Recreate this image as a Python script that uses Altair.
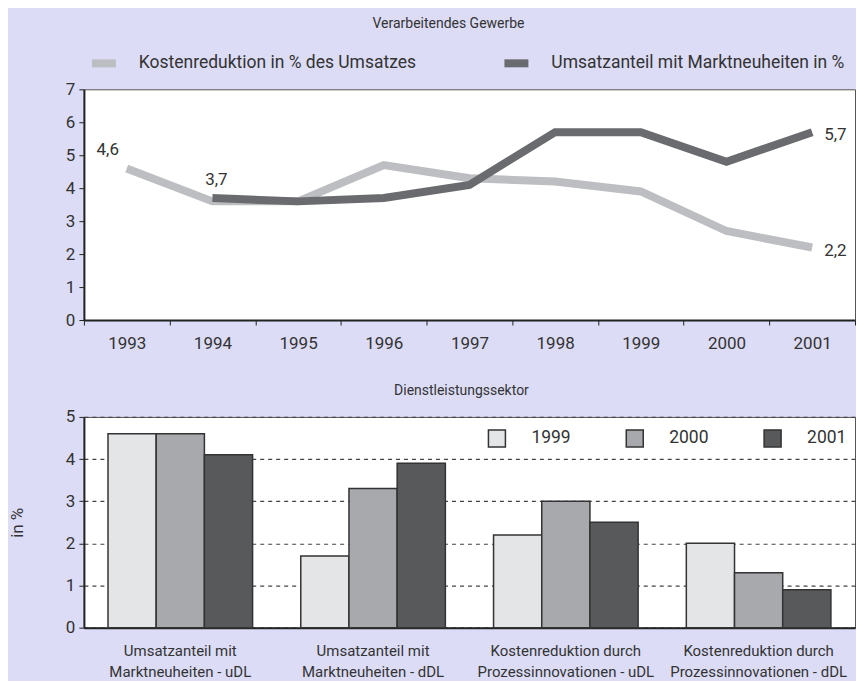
import altair as alt
import pandas as pd

# ---------------- data: top panel (Verarbeitendes Gewerbe) ----------------
years = ["1993", "1994", "1995", "1996", "1997", "1998", "1999", "2000", "2001"]
kosten_values = [4.6, 3.6, 3.6, 4.7, 4.3, 4.2, 3.9, 2.7, 2.2]
umsatz_years = ["1994", "1995", "1996", "1997", "1998", "1999", "2000", "2001"]
umsatz_values = [3.7, 3.6, 3.7, 4.1, 5.7, 5.7, 4.8, 5.7]
series_names = ["Kostenreduktion in % des Umsatzes", "Umsatzanteil mit Marktneuheiten in %"]
series_colors = ["#bdbec1", "#6a6b6e"]

label_years = ["1993", "1994", "2001", "2001"]
label_values = [4.6, 3.7, 5.7, 2.2]
label_texts = ["4,6", "3,7", "5,7", "2,2"]

# ---------------- data: bottom panel (Dienstleistungssektor) ----------------
categories = [
    "Umsatzanteil mit\nMarktneuheiten - uDL",
    "Umsatzanteil mit\nMarktneuheiten - dDL",
    "Kostenreduktion durch\nProzessinnovationen - uDL",
    "Kostenreduktion durch\nProzessinnovationen - dDL",
]
bar_years = ["1999", "2000", "2001"]
values_1999 = [4.6, 1.7, 2.2, 2.0]
values_2000 = [4.6, 3.3, 3.0, 1.3]
values_2001 = [4.1, 3.9, 2.5, 0.9]
bar_colors = ["#e4e5e7", "#a8a9ac", "#58595b"]

FONT = "Roboto"
TXT = "#333333"
W = 772

# ---------------- top panel ----------------
line_df = pd.DataFrame({
    "year": years + umsatz_years,
    "value": kosten_values + umsatz_values,
    "series": [series_names[0]] * len(years) + [series_names[1]] * len(umsatz_years),
})
lab_df = pd.DataFrame({"year": label_years, "value": label_values, "text": label_texts})

x_top = alt.X(
    "year:O", bandPosition=0.5,
    scale=alt.Scale(type="band", domain=years, paddingInner=0, paddingOuter=0),
    axis=alt.Axis(title=None, tickBand="extent", labelAngle=0, tickSize=5,
                  labelPadding=11, labelFontSize=17, domainWidth=2),
)
y_top = alt.Y(
    "value:Q", scale=alt.Scale(domain=[0, 7], nice=False),
    axis=alt.Axis(title=None, values=list(range(8)), grid=False, tickSize=5,
                  labelPadding=4, labelFontSize=17, domainWidth=2),
)
color_top = alt.Color(
    "series:N", scale=alt.Scale(domain=series_names, range=series_colors),
    legend=alt.Legend(title=None, orient="none", legendX=4, legendY=-42,
                      direction="horizontal", symbolType="stroke", symbolSize=576,
                      symbolStrokeWidth=8, labelFontSize=17.5, labelOffset=19,
                      columnPadding=72, labelLimit=400),
)

base_line = alt.Chart(line_df).mark_line(strokeWidth=8, strokeCap="butt", strokeJoin="miter")
line_light = base_line.transform_filter(alt.datum.series == series_names[0]).encode(x=x_top, y=y_top, color=color_top)
line_dark = base_line.transform_filter(alt.datum.series == series_names[1]).encode(x=x_top, y=y_top, color=color_top)

base_lab = alt.Chart(lab_df).encode(x=x_top, y=y_top, text="text:N")
lab_a = base_lab.transform_filter(alt.datum.year == "1993").mark_text(dx=-19, dy=-18, fontSize=17, font=FONT, color=TXT)
lab_b = base_lab.transform_filter(alt.datum.year == "1994").mark_text(dx=4, dy=-18, fontSize=17, font=FONT, color=TXT)
lab_c = base_lab.transform_filter(alt.datum.year == "2001").mark_text(dx=12, dy=3, align="left", fontSize=17, font=FONT, color=TXT)

top = alt.layer(line_light, line_dark, lab_a, lab_b, lab_c).properties(
    width=W, height=231,
    title=alt.TitleParams("Verarbeitendes Gewerbe", fontSize=14, font=FONT, fontWeight="normal",
                          color=TXT, anchor="middle", frame="group", dx=-21, offset=16),
)

# ---------------- bottom panel ----------------
bar_df = pd.DataFrame({
    "cat": categories * 3,
    "year": [y for y in bar_years for _ in categories],
    "value": values_1999 + values_2000 + values_2001,
})

bars = alt.Chart(bar_df).mark_bar(stroke="#333333", strokeWidth=1.5).encode(
    x=alt.X("cat:N", sort=categories,
            scale=alt.Scale(paddingInner=0.25, paddingOuter=0.125),
            axis=alt.Axis(title=None, labelAngle=0, ticks=False, tickSize=0, labelPadding=16,
                          labelFontSize=15, labelLineHeight=21, labelLimit=400,
                          labelExpr="split(datum.label, '\\n')", domainWidth=2)),
    xOffset=alt.XOffset("year:N", sort=bar_years, scale=alt.Scale(paddingInner=0, paddingOuter=0)),
    y=alt.Y("value:Q", scale=alt.Scale(domain=[0, 5], nice=False),
            axis=alt.Axis(title="in %", values=list(range(6)), grid=True, gridDash=[4, 4],
                          gridColor="#444444", gridWidth=1.2, tickSize=5, labelPadding=4,
                          labelFontSize=17, domainWidth=2, titleFontSize=17,
                          titleFontWeight="normal", titleX=-66, titleY=105.5, titleAngle=270,
                          titleAlign="center", titleBaseline="middle")),
    color=alt.Color("year:N", scale=alt.Scale(domain=bar_years, range=bar_colors),
                    legend=alt.Legend(title=None, orient="none", legendX=404, legendY=12,
                                      direction="horizontal", symbolType="square", symbolSize=289,
                                      symbolStrokeColor="#333333", symbolStrokeWidth=1.5,
                                      labelFontSize=17.5, labelOffset=25, columnPadding=52)),
)

bottom = bars.properties(
    width=W, height=211,
    title=alt.TitleParams("Dienstleistungssektor", fontSize=14, font=FONT, fontWeight="normal",
                          color=TXT, anchor="middle", frame="group", dx=-8, offset=10),
)

chart = alt.vconcat(top, bottom, spacing=97, bounds="flush").resolve_scale(
    color="independent"
).resolve_legend(
    color="independent"
).properties(
    padding={"left": 0, "top": 8, "right": 0, "bottom": 0}
).configure(
    background="#dcdcf7", font=FONT
).configure_view(
    fill="white", stroke="#555555", strokeWidth=1
).configure_axis(
    labelColor=TXT, domainColor="#222222", tickColor="#222222", titleColor=TXT,
    labelFont=FONT, titleFont=FONT
).configure_legend(
    labelFont=FONT, labelColor=TXT
)

chart.save("out.html", embed_options={"renderer": "svg", "actions": False})
